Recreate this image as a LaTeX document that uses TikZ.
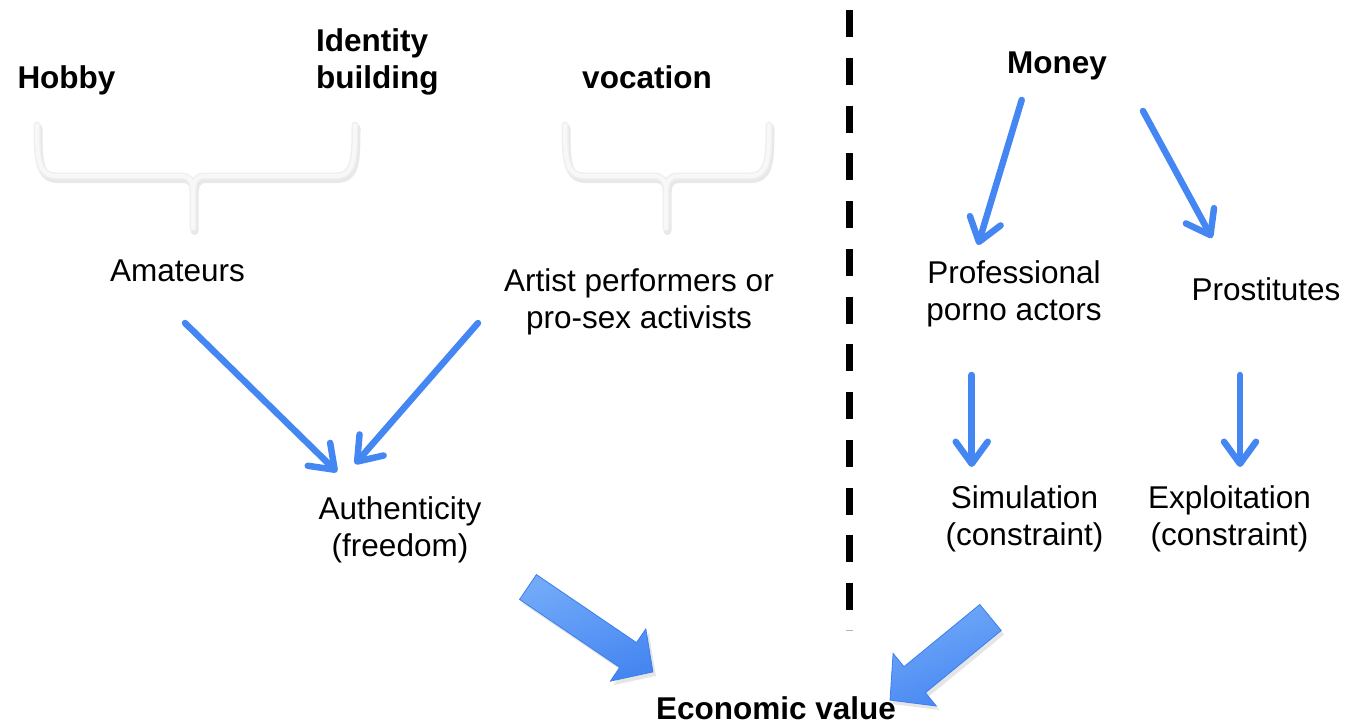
\documentclass[tikz,border=0pt]{standalone}
\usepackage{fontspec}
\setmainfont{Liberation Sans}
\usetikzlibrary{arrows.meta}
\definecolor{arrblue}{HTML}{4587F2}
\definecolor{blocklight}{HTML}{72AAF9}
\definecolor{blockdark}{HTML}{4686F1}
\definecolor{blockedge}{HTML}{3B7EEE}
\definecolor{braceedge}{HTML}{EFEFEF}
\definecolor{braceface}{HTML}{F8F8F8}
\newcommand\mybracepath[3]{(#1,125) .. controls (#1,160) and ({#1+1},176) .. ({#1+20},176) -- ({#2-12},176) .. controls ({#2-3},176) and (#2,181) .. (#2,193) -- (#2,228)
  (#2,193) .. controls (#2,181) and ({#2+3},176) .. ({#2+12},176) -- ({#3-20},176) .. controls ({#3-1},176) and (#3,160) .. (#3,125)}
\begin{document}
\begin{tikzpicture}[x=1pt,y=-1pt,
  lbl/.style={font=\fontsize{31.5}{37}\selectfont, inner sep=0pt, align=center},
  blbl/.style={font=\fontsize{31.5}{37}\selectfont\bfseries, inner sep=0pt, align=left},
  thinarr/.style={draw=arrblue, line width=6.5pt, line cap=round, line join=round,
    -{Straight Barb[length=22pt,width=32pt,round]}},
  blockarr/.style={top color=blocklight, bottom color=blockdark, shading angle=20, draw=blockedge, line width=0.8pt, line join=miter},
  blockshadow/.style={fill=black, opacity=0.10},
  braceshadow/.style={draw=black!9, line width=8pt, line cap=round},
  braceouter/.style={draw=braceedge, line width=7pt, line cap=round},
  braceinner/.style={draw=braceface, line width=4pt, line cap=round},
  dashsep/.style={draw=black, line width=7pt, dash pattern=on 27pt off 20.75pt}]
\useasboundingbox (0,0) rectangle (1348,724);

% braces
\draw[braceshadow, shift={(1.5,3)}] \mybracepath{37}{193}{355};
\draw[braceouter] \mybracepath{37}{193}{355};
\draw[braceinner] \mybracepath{37}{193}{355};
\draw[braceshadow, shift={(1.5,3)}] \mybracepath{565}{666}{769};
\draw[braceouter] \mybracepath{565}{666}{769};
\draw[braceinner] \mybracepath{565}{666}{769};

% texts (base anchor = baseline of last line)
\node[blbl, anchor=base] (hobby) at (66.5,88) {Hobby};
\node[blbl, anchor=base west] (identity) at (316,88) {Identity\\building};
\node[blbl, anchor=base] (vocation) at (647,88) {vocation};
\node[blbl, anchor=base] (money) at (1057,73) {Money};
\node[lbl, anchor=base] (amateurs) at (177.5,281) {Amateurs};
\node[lbl, anchor=base] (artist) at (639,328) {Artist performers or\\pro-sex activists};
\node[lbl, anchor=base] (pro) at (1014,320) {Professional\\porno actors};
\node[lbl, anchor=base] (prost) at (1266,300) {Prostitutes};
\node[lbl, anchor=base] (auth) at (400,556) {Authenticity\\(freedom)};
\node[lbl, anchor=base] (sim) at (1024.5,545) {Simulation\\(constraint)};
\node[lbl, anchor=base] (expl) at (1229.5,545) {Exploitation\\(constraint)};
\node[blbl, anchor=base] (econ) at (776,719) {Economic value};

% thin arrows
\coordinate (a1s) at (185,323); \coordinate (a1e) at (337,472);
\coordinate (a2s) at (478,323); \coordinate (a2e) at (355,464);
\coordinate (m1s) at (1021.7,100); \coordinate (m1e) at (978,245);
\coordinate (m2s) at (1143,111); \coordinate (m2e) at (1212,238);
\coordinate (p1s) at (971.7,375); \coordinate (p1e) at (971.7,467);
\coordinate (p2s) at (1240,375); \coordinate (p2e) at (1240,467);
\draw[thinarr] (a1s) -- (a1e);
\draw[thinarr] (a2s) -- (a2e);
\draw[thinarr] (m1s) -- (m1e);
\draw[thinarr] (m2s) -- (m2e);
\draw[thinarr] (p1s) -- (p1e);
\draw[thinarr] (p2s) -- (p2e);

% dashed separator
\coordinate (dtop) at (849.5,10); \coordinate (dbot) at (849.5,610);
\draw[dashsep] (dtop) -- (dbot);
\draw[draw=black!30, line width=1pt] (846,630) -- (853,630);

% block arrows
\begin{scope}[shift={(3,4)}]
\fill[blockshadow] (519.6,599.4) -- (619.7,667.4) -- (610.4,681.1) -- (652.9,671.9) -- (645.8,628.9) -- (636.5,642.6) -- (536.4,574.6) -- cycle;
\fill[blockshadow] (1001.2,630.5) -- (925.4,692.7) -- (936.3,706) -- (890,700.1) -- (893.1,653.4) -- (904,666.7) -- (979.8,604.5) -- cycle;
\end{scope}
\path[blockarr] (519.6,599.4) -- (619.7,667.4) -- (610.4,681.1) -- (652.9,671.9) -- (645.8,628.9) -- (636.5,642.6) -- (536.4,574.6) -- cycle;
\path[blockarr] (1001.2,630.5) -- (925.4,692.7) -- (936.3,706) -- (890,700.1) -- (893.1,653.4) -- (904,666.7) -- (979.8,604.5) -- cycle;
\end{tikzpicture}
\end{document}
